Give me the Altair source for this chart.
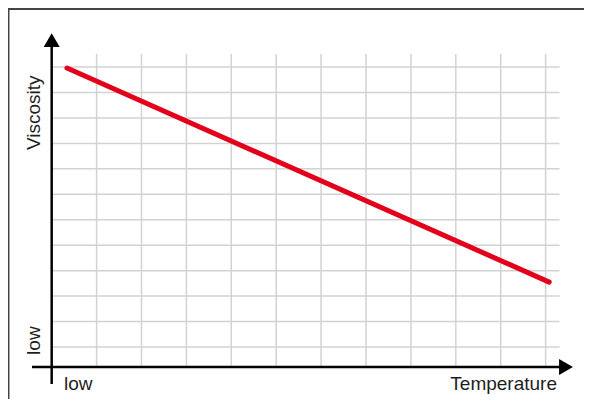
import altair as alt
import pandas as pd

# ---- data ----
temperature = [0.34, 11.08]          # start / end of the trend line
viscosity = [11.96, 3.55]

x_grid = list(range(1, 12))          # vertical grid lines (temperature units)
y_grid = list(range(1, 13))          # horizontal grid lines (viscosity units)
grid_top = 12.51
grid_right = 11.31

x_axis_at = 0.21
y_axis_at = 0.0
x_axis_span = [-0.439, 11.454]
y_axis_span = [-0.454, 13.06]

labels_text = ["Temperature", "low"]
labels_x = [11.254, 0.274]
labels_y = [-0.69, -0.69]
labels_align = ["right", "left"]

vlabels_text = ["Viscosity", "low"]
vlabels_x = [-0.26, -0.26]
vlabels_y = [8.74, 0.69]

W, H = 576, 391
X_DOMAIN = [-0.973, 11.855]
Y_DOMAIN = [-1.043, 14.32]

frame_left_x = [-0.973, -0.940]
frame_top_y = [14.24, 14.32]

xs = alt.Scale(domain=X_DOMAIN, nice=False, zero=False)
ys = alt.Scale(domain=Y_DOMAIN, nice=False, zero=False)

GRID = "#d2d2d2"
TXT = "#1e1e1e"
FONT = "Liberation Sans"
FS = 19

vgrid = alt.Chart(pd.DataFrame({"x": x_grid, "y": x_axis_at, "y2": grid_top})).mark_rule(
    color=GRID, strokeWidth=1.5
).encode(
    x=alt.X("x:Q", scale=xs, axis=None),
    y=alt.Y("y:Q", scale=ys, axis=None),
    y2="y2:Q",
)

hgrid = alt.Chart(pd.DataFrame({"y": y_grid, "x": y_axis_at, "x2": grid_right})).mark_rule(
    color=GRID, strokeWidth=1.5
).encode(
    x=alt.X("x:Q", scale=xs, axis=None),
    x2="x2:Q",
    y=alt.Y("y:Q", scale=ys, axis=None),
)

trend = alt.Chart(pd.DataFrame({"t": temperature, "v": viscosity})).mark_line(
    color="#e2001a", strokeWidth=5, strokeCap="round"
).encode(
    x=alt.X("t:Q", scale=xs, axis=None),
    y=alt.Y("v:Q", scale=ys, axis=None),
)

xaxis = alt.Chart(pd.DataFrame({"x": [x_axis_span[0]], "x2": [x_axis_span[1]], "y": [x_axis_at]})).mark_rule(
    color="black", strokeWidth=2.5
).encode(
    x=alt.X("x:Q", scale=xs, axis=None),
    x2="x2:Q",
    y=alt.Y("y:Q", scale=ys, axis=None),
)

yaxis = alt.Chart(pd.DataFrame({"y": [y_axis_span[0]], "y2": [y_axis_span[1]], "x": [y_axis_at]})).mark_rule(
    color="black", strokeWidth=2.5
).encode(
    x=alt.X("x:Q", scale=xs, axis=None),
    y=alt.Y("y:Q", scale=ys, axis=None),
    y2="y2:Q",
)

xarrow = alt.Chart(pd.DataFrame({"x": [x_axis_span[1]], "y": [x_axis_at]})).mark_point(
    shape="triangle-right", filled=True, color="black", opacity=1, size=256, strokeWidth=0
).encode(
    x=alt.X("x:Q", scale=xs, axis=None),
    y=alt.Y("y:Q", scale=ys, axis=None),
)

yarrow = alt.Chart(pd.DataFrame({"x": [y_axis_at], "y": [y_axis_span[1]]})).mark_point(
    shape="triangle-up", filled=True, color="black", opacity=1, size=256, strokeWidth=0
).encode(
    x=alt.X("x:Q", scale=xs, axis=None),
    y=alt.Y("y:Q", scale=ys, axis=None),
)

xlab_df = pd.DataFrame({"text": labels_text, "x": labels_x, "y": labels_y, "align": labels_align})
xlab_right = alt.Chart(xlab_df[xlab_df["align"] == "right"]).mark_text(
    align="right", baseline="alphabetic", fontSize=FS, font=FONT, color=TXT
).encode(
    x=alt.X("x:Q", scale=xs, axis=None),
    y=alt.Y("y:Q", scale=ys, axis=None),
    text="text:N",
)
xlab_left = alt.Chart(xlab_df[xlab_df["align"] == "left"]).mark_text(
    align="left", baseline="alphabetic", fontSize=FS, font=FONT, color=TXT
).encode(
    x=alt.X("x:Q", scale=xs, axis=None),
    y=alt.Y("y:Q", scale=ys, axis=None),
    text="text:N",
)

ylab = alt.Chart(pd.DataFrame({"text": vlabels_text, "x": vlabels_x, "y": vlabels_y})).mark_text(
    align="left", baseline="alphabetic", angle=270, fontSize=FS, font=FONT, color=TXT
).encode(
    x=alt.X("x:Q", scale=xs, axis=None),
    y=alt.Y("y:Q", scale=ys, axis=None),
    text="text:N",
)

frame_top = alt.Chart(pd.DataFrame({"x": [X_DOMAIN[0]], "x2": [X_DOMAIN[1]],
                                    "y": [frame_top_y[0]], "y2": [frame_top_y[1]]})).mark_rect(
    color="#444444", strokeWidth=0
).encode(
    x=alt.X("x:Q", scale=xs, axis=None),
    x2="x2:Q",
    y=alt.Y("y:Q", scale=ys, axis=None),
    y2="y2:Q",
)
frame_left = alt.Chart(pd.DataFrame({"x": [frame_left_x[0]], "x2": [frame_left_x[1]],
                                     "y": [Y_DOMAIN[0]], "y2": [Y_DOMAIN[1]]})).mark_rect(
    color="#444444", strokeWidth=0
).encode(
    x=alt.X("x:Q", scale=xs, axis=None),
    x2="x2:Q",
    y=alt.Y("y:Q", scale=ys, axis=None),
    y2="y2:Q",
)

chart = alt.layer(
    vgrid, hgrid, trend, xaxis, yaxis, xarrow, yarrow, xlab_right, xlab_left, ylab, frame_top, frame_left
).properties(
    width=W, height=H, autosize=alt.AutoSizeParams(type="none"), padding=0, background="white"
).configure_view(stroke=None)

chart.save("out.html", embed_options={"renderer": "svg", "actions": False})
